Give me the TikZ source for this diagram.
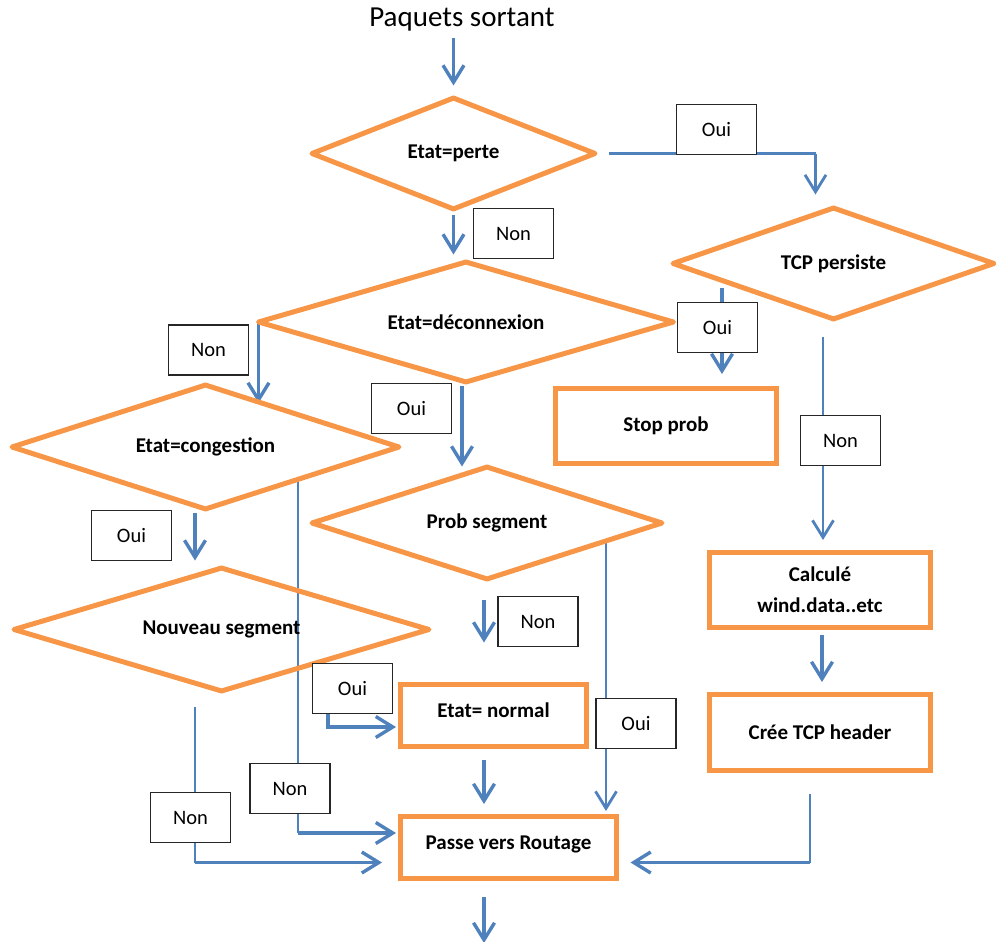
\documentclass[tikz,border=0pt]{standalone}
\usepackage{fontspec}
\setmainfont{Carlito}
\usetikzlibrary{shapes.geometric,arrows.meta}
\definecolor{flowOrange}{HTML}{F79646}
\definecolor{flowBlue}{HTML}{4F81BD}
\pgfdeclarelayer{back}
\pgfdeclarelayer{wires}
\pgfsetlayers{back,wires,main}
\tikzset{
  decision/.style={diamond, shape aspect=4, draw=flowOrange, line width=5pt,
    line join=round, inner sep=0pt, font=\bfseries\fontsize{21}{24}\selectfont},
  process/.style={rectangle, draw=flowOrange, line width=5pt, fill=white,
    inner sep=0pt, font=\bfseries\fontsize{21}{24}\selectfont},
  tag/.style={rectangle, draw=black!85, line width=1.3pt, fill=white,
    minimum width=80pt, minimum height=50pt, inner sep=0pt,
    font=\fontsize{20.5}{24}\selectfont},
  wire/.style={draw=flowBlue, line width=2.2pt},
  link/.style={draw=flowBlue, line width=3.4pt,
    -{Straight Barb[length=17pt,width=21pt]}},
}
\begin{document}
\begin{tikzpicture}[x=1pt,y=-1pt]
\useasboundingbox (0,0) rectangle (996,942);
\begin{pgfonlayer}{back}
  \fill[white] (0,0) rectangle (996,942);
\end{pgfonlayer}

% title
\node[font=\fontsize{29}{34}\selectfont] (title) at (462,20) {Paquets sortant};

% decisions
\node[decision, minimum width=285pt, minimum height=113pt] (perte) at (453.5,153.5) {Etat=perte};
\node[decision, minimum width=417pt, minimum height=122pt] (decon) at (466,322) {Etat=déconnexion};
\node[decision, minimum width=323pt, minimum height=113pt] (tcp) at (833.5,263.5) {TCP persiste};
\node[decision, minimum width=389pt, minimum height=126pt] (cong) at (205.5,447) {Etat=congestion};
\node[decision, minimum width=352pt, minimum height=114pt] (prob) at (487,523) {Prob segment};
\node[decision, minimum width=417pt, minimum height=125pt] (nouv) at (221.5,629.5) {Nouveau segment};

% actions
\node[process, minimum width=221pt, minimum height=75pt] (stop) at (666,426) {Stop prob};
\node[process, minimum width=221pt, minimum height=75pt, align=center] (calc) at (820,590) {Calculé\\[7pt]wind.data..etc};
\node[process, minimum width=221pt, minimum height=76pt] (cree) at (820,732.5) {Crée TCP header};
\node[process, minimum width=186pt, minimum height=62pt, text depth=10pt] (normal) at (493.5,715.5) {Etat= normal};
\node[process, minimum width=216pt, minimum height=62pt, text depth=10pt] (passe) at (508.5,847.5) {Passe vers Routage};

% branch labels
\node[tag] (ouiA) at (716.5,129.5) {Oui};
\node[tag] (nonA) at (513.5,233.5) {Non};
\node[tag] (ouiB) at (717.5,327.5) {Oui};
\node[tag] (nonB) at (208.5,350) {Non};
\node[tag] (ouiC) at (411.5,408.5) {Oui};
\node[tag] (nonC) at (840.5,440.5) {Non};
\node[tag] (ouiD) at (131.5,535.5) {Oui};
\node[tag] (nonD) at (538,621.5) {Non};
\node[tag] (ouiE) at (352.5,688.5) {Oui};
\node[tag] (ouiF) at (636,723.5) {Oui};
\node[tag] (nonE) at (290,788.5) {Non};
\node[tag] (nonF) at (190.5,817.5) {Non};

% free ends and corners of connectors
\coordinate (perteOui) at ([xshift=10pt]perte.east);
\coordinate (tcpTop) at ([xshift=-18pt]tcp.north);
\coordinate (perteBend) at (tcpTop |- perteOui);
\coordinate (tcpOui) at (722,288);
\coordinate (tcpNon) at (823,337);
\coordinate (passeWa) at ([yshift=14.5pt]passe.west);
\coordinate (passeWb) at ([yshift=-15pt]passe.west);
\coordinate (passeEb) at ([yshift=-15pt]passe.east);
\coordinate (congNon) at (298,481);
\coordinate (congBend) at (congNon |- passeWa);
\coordinate (nouvNon) at (195,707);
\coordinate (nouvBend) at (nouvNon |- passeWb);
\coordinate (creeOut) at ([xshift=-10pt,yshift=-21pt]cree.south);
\coordinate (creeBend) at (creeOut |- passeEb);
\coordinate (probOui) at (606,542);

% connectors
\begin{pgfonlayer}{wires}
  \draw[link, shorten <=3pt, shorten >=9pt] (perte.north |- title.south) -- (perte.north);
  \draw[wire] (perteOui) -- (perteBend);
  \draw[link, line width=2.8pt] (perteBend) -- ([yshift=10pt]tcpTop);
  \draw[link, shorten <=2pt, shorten >=4pt] (perte.south) -- (perte.south |- decon.north);
  \draw[link, shorten >=12pt] (tcpOui) -- (tcpOui |- stop.north);
  \draw[link, line width=2.8pt, shorten >=10pt] (tcpNon) -- (tcpNon |- calc.north);
  \draw[link, shorten <=5pt, shorten >=10pt] ([xshift=2pt]calc.south) -- ([xshift=2pt]cree.north);
  \draw[wire] (creeOut) -- (creeBend);
  \draw[link, shorten >=11.5pt] (creeBend) -- (passeEb);
  \draw[link] ([xshift=3.5pt]decon.west) -- ++(0,81);
  \draw[link] ([xshift=-4pt]decon.south) -- ++(0,81);
  \draw[link] ([xshift=-10.5pt]cong.south) -- ++(0,48);
  \draw[wire] (congNon) -- (congBend);
  \draw[link, shorten >=2pt] (congBend) -- (passeWa);
  \draw[wire] (nouvNon) -- (nouvBend);
  \draw[link, shorten >=16pt] (nouvBend) -- (passeWb);
  \draw[link] ([xshift=-3pt,yshift=-17pt]prob.south) -- ++(0,43);
  \draw[link, shorten >=2pt] ([xshift=-24.5pt]ouiE.south) |- ([yshift=-11.5pt]normal.west);
  \draw[link, line width=2.8pt, shorten >=3pt] (probOui) -- (probOui |- passe.north);
  \draw[link] ([xshift=-9.5pt,yshift=-11pt]normal.south) -- ([xshift=-24.5pt,yshift=10pt]passe.north);
  \draw[link] ([xshift=-24.5pt,yshift=-16pt]passe.south) -- ++(0,46);
\end{pgfonlayer}
\end{tikzpicture}
\end{document}
